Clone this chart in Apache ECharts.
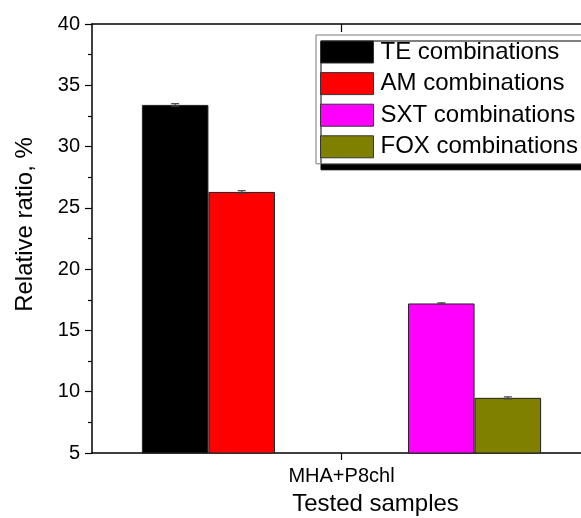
<!DOCTYPE html>
<html>
<head>
<meta charset="utf-8">
<script src="https://cdn.jsdelivr.net/npm/echarts@6/dist/echarts.min.js"></script>
<style>
  html, body { margin: 0; padding: 0; background: #fff; }
  #chart { width: 581px; height: 518px; }
</style>
</head>
<body>
<div id="chart"></div>
<script>
// Sample on the category axis
const categories = ['MHA+P8chl'];

// Bar groups, left to right; two empty slots sit between AM and SXT
const seriesNames = ['TE combinations', 'AM combinations', 'slot 3', 'slot 4', 'SXT combinations', 'FOX combinations'];
const seriesValues = [33.4, 26.3, null, null, 17.2, 9.5];
const seriesErrors = [0.1, 0.1, null, null, 0.05, 0.08];
const seriesColors = ['#000000', '#ff0000', '#ffffff', '#ffffff', '#ff00ff', '#808000'];
const legendNames = ['TE combinations', 'AM combinations', 'SXT combinations', 'FOX combinations'];

// Value axis ticks
const yMin = 5, yMax = 40, yStep = 5;

const FONT = 'Liberation Sans, Arial, sans-serif';
const chart = echarts.init(document.getElementById('chart'), null, { renderer: 'canvas' });

const slotCount = seriesNames.length;
const groupShare = 0.8;

const barSeries = seriesNames.map((name, i) => ({
  name: name,
  type: 'bar',
  xAxisIndex: 0,
  barGap: '0%',
  barCategoryGap: '20%',
  data: [seriesValues[i] == null ? '-' : seriesValues[i]],
  itemStyle: { color: seriesColors[i], borderColor: '#222', borderWidth: 1 },
  emphasis: { disabled: true },
  silent: true
}));

// Error bars drawn over each bar slot
const errorSeries = {
  type: 'custom',
  xAxisIndex: 0,
  silent: true,
  z: 5,
  data: seriesValues.map((v, i) => [0, v, seriesErrors[i], i]).filter(d => d[1] != null),
  renderItem: function (params, api) {
    const v = api.value(1), e = api.value(2), slot = api.value(3);
    const band = api.size([1, 0])[0];
    const bw = band * groupShare / slotCount;
    const center = api.coord([0, v])[0] + (slot - (slotCount - 1) / 2) * bw;
    const top = api.coord([0, v + e])[1];
    const bot = api.coord([0, v - e])[1];
    const half = 4;
    const style = { stroke: '#444', lineWidth: 1.2, fill: null };
    return {
      type: 'group',
      children: [
        { type: 'line', shape: { x1: center, y1: top, x2: center, y2: bot }, style: style },
        { type: 'line', shape: { x1: center - half, y1: top, x2: center + half, y2: top }, style: style },
        { type: 'line', shape: { x1: center - half, y1: bot, x2: center + half, y2: bot }, style: style }
      ]
    };
  }
};

chart.setOption({
  animation: false,
  backgroundColor: '#ffffff',
  textStyle: { fontFamily: FONT },
  // plot frame runs past the right edge of the canvas
  grid: { left: 92, top: 24, width: 499, height: 429, containLabel: false, outerBoundsMode: 'none' },
  legend: {
    data: legendNames,
    orient: 'vertical',
    left: 316,
    top: 35,
    itemWidth: 53,
    itemHeight: 22,
    itemGap: 7.6,
    padding: [5, 30, 5, 4],
    icon: 'rect',
    borderColor: '#777',
    borderWidth: 1,
    backgroundColor: '#ffffff',
    shadowColor: '#000000',
    shadowBlur: 0,
    shadowOffsetX: 5,
    shadowOffsetY: 6,
    itemStyle: { borderColor: '#333', borderWidth: 1 },
    textStyle: { fontFamily: FONT, fontSize: 24, lineHeight: 22, color: '#000', padding: [0, 0, 0, 2] },
    selectedMode: false
  },
  xAxis: [
    {
      type: 'category',
      data: categories,
      position: 'bottom',
      name: 'Tested samples',
      nameLocation: 'middle',
      nameGap: 39,
      nameTextStyle: { fontFamily: FONT, fontSize: 24, color: '#000', padding: [0, 0, 0, 68] },
      axisLine: { show: true, onZero: false, lineStyle: { color: '#000', width: 1.5 } },
      axisTick: { show: true, inside: false, length: 7, alignWithLabel: true, lineStyle: { color: '#000', width: 1.2 } },
      axisLabel: { fontFamily: FONT, fontSize: 20, color: '#000', margin: 13 },
      splitLine: { show: false }
    },
    {
      type: 'category',
      data: categories,
      position: 'top',
      axisLine: { show: true, onZero: false, lineStyle: { color: '#000', width: 1.5 } },
      axisTick: { show: true, inside: true, length: 8, alignWithLabel: true, lineStyle: { color: '#000', width: 1.2 } },
      axisLabel: { show: false },
      splitLine: { show: false }
    }
  ],
  yAxis: {
    type: 'value',
    min: yMin,
    max: yMax,
    interval: yStep,
    name: 'Relative ratio, %',
    nameLocation: 'middle',
    nameGap: 55,
    nameTextStyle: { fontFamily: FONT, fontSize: 24, color: '#000', padding: [0, 0, 0, 28] },
    axisLine: { show: true, lineStyle: { color: '#000', width: 1.5 } },
    axisTick: { show: true, inside: false, length: 7, lineStyle: { color: '#000', width: 1.2 } },
    minorTick: { show: true, splitNumber: 2, length: 4, lineStyle: { color: '#000', width: 1.2 } },
    axisLabel: { fontFamily: FONT, fontSize: 20, color: '#000', margin: 12 },
    splitLine: { show: false }
  },
  series: barSeries.concat([errorSeries])
});
</script>
</body>
</html>
